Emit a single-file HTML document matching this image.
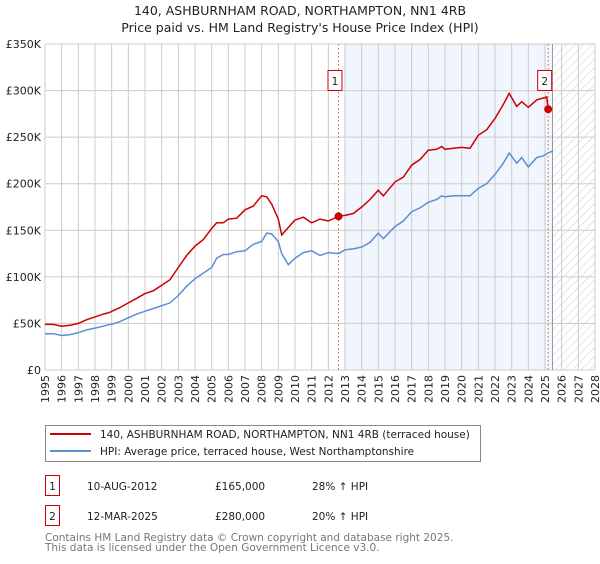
<!DOCTYPE html>
<html><head><meta charset="utf-8"><style>
body{margin:0;background:#fff;font-family:"DejaVu Sans","Liberation Sans",sans-serif;}
svg text{font-family:"DejaVu Sans","Liberation Sans",sans-serif;}
</style></head><body>
<svg id="chart" width="600" height="560" xmlns="http://www.w3.org/2000/svg">
<defs><pattern id="hatch" width="6" height="6" patternUnits="userSpaceOnUse" patternTransform="rotate(45)"><line x1="0" y1="0" x2="0" y2="6" stroke="#ccc" stroke-width="1"/></pattern></defs>
<text x="300" y="15" text-anchor="middle" font-size="12.5" fill="#222">140, ASHBURNHAM ROAD, NORTHAMPTON, NN1 4RB</text>
<text x="300" y="32" text-anchor="middle" font-size="12.5" fill="#222">Price paid vs. HM Land Registry's House Price Index (HPI)</text>
<g id="plot"></g>
<g>
<rect x="45.5" y="425.5" width="435" height="36" fill="#fff" stroke="#888"/>
<line x1="50" y1="434" x2="91" y2="434" stroke="#cc0000" stroke-width="2"/>
<text x="100" y="438" font-size="10.5" fill="#222">140, ASHBURNHAM ROAD, NORTHAMPTON, NN1 4RB (terraced house)</text>
<line x1="50" y1="451" x2="91" y2="451" stroke="#5b8fd4" stroke-width="2"/>
<text x="100" y="455" font-size="10.5" fill="#222">HPI: Average price, terraced house, West Northamptonshire</text>
</g>
<g>
<rect x="45.5" y="475.5" width="14" height="20" fill="#fff" stroke="#cc0000"/>
<text x="52.5" y="490" text-anchor="middle" font-size="10.5" fill="#222">1</text>
<text x="87" y="490" font-size="10.5" fill="#222">10-AUG-2012</text>
<text x="215" y="490" font-size="10.5" fill="#222">£165,000</text>
<text x="312" y="490" font-size="10.5" fill="#222">28% ↑ HPI</text>
<rect x="45.5" y="505.5" width="14" height="20" fill="#fff" stroke="#cc0000"/>
<text x="52.5" y="520" text-anchor="middle" font-size="10.5" fill="#222">2</text>
<text x="87" y="520" font-size="10.5" fill="#222">12-MAR-2025</text>
<text x="215" y="520" font-size="10.5" fill="#222">£280,000</text>
<text x="312" y="520" font-size="10.5" fill="#222">20% ↑ HPI</text>
</g>
<text x="45" y="541" font-size="10.5" fill="#777">Contains HM Land Registry data © Crown copyright and database right 2025.</text>
<text x="45" y="551" font-size="10.5" fill="#777">This data is licensed under the Open Government Licence v3.0.</text>
</svg>
<script>
const years=[1995,1995.5,1996,1996.5,1997,1997.5,1998,1998.5,1998.9,1999,1999.5,2000,2000.5,2001,2001.5,2002,2002.5,2003,2003.5,2004,2004.5,2005,2005.3,2005.7,2006,2006.5,2007,2007.5,2008,2008.3,2008.6,2009,2009.2,2009.6,2010,2010.5,2011,2011.5,2012,2012.61,2013,2013.5,2014,2014.5,2015,2015.3,2016,2016.5,2017,2017.5,2018,2018.5,2018.8,2019,2019.5,2020,2020.5,2021,2021.5,2022,2022.5,2022.85,2023.3,2023.6,2024,2024.5,2024.9,2025.1,2025.19];
const propertyK=[49,49,47,48,50,54,57,60,62,63,67,72,77,82,85,91,97,110,123,133,140,152,158,158,162,163,172,176,187,186,178,162,145,153,161,164,158,162,160,165,166,168,175,183,193,187,202,207,220,226,236,237,240,237,238,239,238,252,258,270,285,297,283,288,282,290,292,293,280];
const hpiYears=years.concat([2025.45]);
const hpiK=[39,39,37,38,40,43,45,47,49,49,52,56,60,63,66,69,72,80,90,98,104,110,120,124,124,127,128,135,138,147,146,138,125,113,120,126,128,123,126,125,129,130,132,137,147,141,154,160,170,174,180,183,187,186,187,187,187,195,200,210,222,233,222,228,218,228,230,232,233,235];
const yTicks=[0,50,100,150,200,250,300,350];
const yTickLabels=["£0","£50K","£100K","£150K","£200K","£250K","£300K","£350K"];
const xTicks=[1995,1996,1997,1998,1999,2000,2001,2002,2003,2004,2005,2006,2007,2008,2009,2010,2011,2012,2013,2014,2015,2016,2017,2018,2019,2020,2021,2022,2023,2024,2025,2026,2027,2028];
const saleYears=[2012.61,2025.19];
const saleK=[165,280];
const saleLabels=["1","2"];
const shadeStart=2013.0, forecastStart=2025.45;

const X0=45,X1=595,Y0=370,Y1=44;
const xs=y=>X0+(y-1995)/(2028-1995)*(X1-X0);
const ys=v=>Y0-v/350*(Y0-Y1);
const NS="http://www.w3.org/2000/svg";
const g=document.getElementById('plot');
function mk(t,a){const e=document.createElementNS(NS,t);for(const k in a)e.setAttribute(k,a[k]);g.appendChild(e);return e;}

let e=mk('rect',{x:xs(shadeStart),y:Y1,width:xs(forecastStart)-xs(shadeStart),height:Y0-Y1,fill:'#eef3fc',opacity:0.8});


e=mk('rect',{x:xs(forecastStart),y:Y1,width:X1-xs(forecastStart),height:Y0-Y1,fill:'url(#hatch)'});



yTicks.forEach((v,i)=>{
 let l=mk('line',{x1:X0,x2:X1,y1:ys(v),y2:ys(v),stroke:'#ccc','stroke-width':1});
 
 
 let t=mk('text',{x:X0-4,y:ys(v)+4,'text-anchor':'end','font-size':11,fill:'#222'});
 t.textContent=yTickLabels[i];
 
 
});
xTicks.forEach(yr=>{
 let l=mk('line',{x1:xs(yr),x2:xs(yr),y1:Y1,y2:Y0,stroke:'#ccc','stroke-width':1});
 
 
 let t=mk('text',{x:0,y:0,'text-anchor':'end','font-size':11,fill:'#222',transform:`translate(${xs(yr)+4},${Y0+5}) rotate(-90)`});
 t.textContent=yr;
 
 
});
l=mk('line',{x1:xs(forecastStart),x2:xs(forecastStart),y1:Y1,y2:Y0,stroke:'#999','stroke-width':1});



saleYears.forEach((yr,i)=>{
 let l=mk('line',{x1:xs(yr),x2:xs(yr),y1:Y1,y2:Y0,stroke:'#ee5555','stroke-width':1,'stroke-dasharray':'1.5,2.5'});
 
 
});

const pts=(xa,va)=>xa.map((yr,i)=>xs(yr).toFixed(1)+','+ys(va[i]).toFixed(1)).join(' ');
e=mk('polyline',{points:pts(hpiYears,hpiK),fill:'none',stroke:'#5b8fd4','stroke-width':1.5});


e=mk('polyline',{points:pts(years,propertyK),fill:'none',stroke:'#cc0000','stroke-width':1.5});



saleYears.forEach((yr,i)=>{
 let c=mk('circle',{cx:xs(yr),cy:ys(saleK[i]),r:4,fill:'#cc0000'});
 
 
 let r=mk('rect',{x:xs(yr)-10.5,y:70.5,width:14,height:20,fill:'#fff',stroke:'#cc0000'});
 
 
 let t=mk('text',{x:xs(yr)-3.5,y:85,'text-anchor':'middle','font-size':10.5,fill:'#222'});
 t.textContent=saleLabels[i];
 
 
});
</script>
</body></html>
